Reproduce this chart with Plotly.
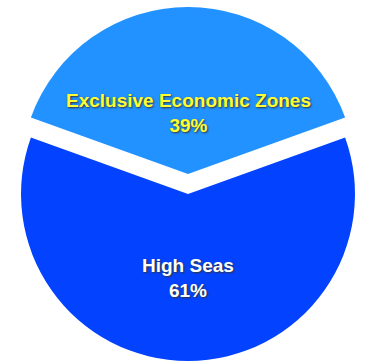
import plotly.graph_objects as go

labels = ["Exclusive Economic Zones", "High Seas"]
values = [39, 61]
colors = ["#2192FF", "#0343FF"]
text_colors = ["#FFFF33", "#FFFFFF"]
pulls = [0.06, 0.06]
label_y = [0.70, 0.234]  # paper positions of the slice labels

fig = go.Figure(go.Pie(
    labels=labels,
    values=values,
    marker=dict(colors=colors, line=dict(width=0)),
    pull=pulls,
    sort=False,
    direction="clockwise",
    rotation=-70.2,
    textinfo="none",
    hoverinfo="label+percent",
    showlegend=False,
))

total = sum(values)
for lab, val, col, yy in zip(labels, values, text_colors, label_y):
    fig.add_annotation(
        x=0.5, y=yy, xref="paper", yref="paper",
        xanchor="center", yanchor="middle",
        text=f"{lab}<br>{round(100 * val / total)}%",
        showarrow=False, align="center",
        font=dict(family="Liberation Sans, Arial", size=19, color=col,
                  weight="bold", shadow="1px 1px 2px #333333"),
    )

fig.update_layout(
    width=365, height=361,
    margin=dict(l=11, r=0, t=7, b=0),
    paper_bgcolor="white",
    plot_bgcolor="white",
    showlegend=False,
)

fig.write_html("out.html", config={"displayModeBar": False},
               post_script="document.body.style.margin='0px';")
